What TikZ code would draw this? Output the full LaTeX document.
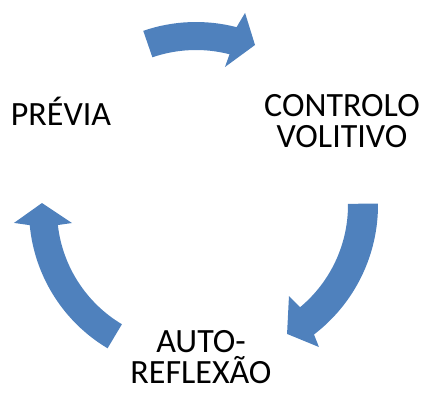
\documentclass[tikz,border=0pt]{standalone}
\usepackage{fontspec}
\setmainfont{Carlito}
\definecolor{arrowblue}{HTML}{4F81BD}
\tikzset{
  cyclearrow/.style={fill=arrowblue, draw=none},
  phase/.style={font=\fontsize{34pt}{30.5pt}\selectfont, align=center, anchor=base, inner sep=0pt, text=black}
}
\begin{document}
\begin{tikzpicture}[x=1pt,y=1pt]
\useasboundingbox (0,0) rectangle (423,392);
% texts (anchor base = baseline of the last line)
\node[phase] (prev) at (61,267) {PRÉVIA};
\node[phase] (ctrl) at (342,245) {CONTROLO\\VOLITIVO};
\node[phase] (auto) at (201,9) {AUTO-\\REFLEXÃO};
% top arrow
\begin{scope}[shift={(196,208)}]
\fill[cyclearrow] (109:162pt) arc[start angle=109, end angle=75.5, radius=162pt]
  -- (74:178pt) -- (67:151pt) -- (76.1:120.5pt) -- (75.5:134pt)
  arc[start angle=75.5, end angle=109, radius=134pt] -- cycle;
\end{scope}
% right arrow
\begin{scope}[shift={(215,187)}]
\fill[cyclearrow] (0.5:163pt) arc[start angle=0.5, end angle=-52.6, radius=163pt]
  -- (-53.8:176pt) -- (-60.8:147.7pt) -- (-50.9:117.3pt) -- (-50.2:133pt)
  arc[start angle=-50.2, end angle=0.5, radius=133pt] -- cycle;
\end{scope}
% left arrow
\begin{scope}[shift={(190,182)}]
\fill[cyclearrow] (239.2:161pt) arc[start angle=239.2, end angle=185.4, radius=161pt]
  -- (184.2:176.5pt) -- (177.3:148.2pt) -- (186.3:118.7pt) -- (186.5:133pt)
  arc[start angle=186.5, end angle=239.2, radius=133pt] -- cycle;
\end{scope}
\end{tikzpicture}
\end{document}
